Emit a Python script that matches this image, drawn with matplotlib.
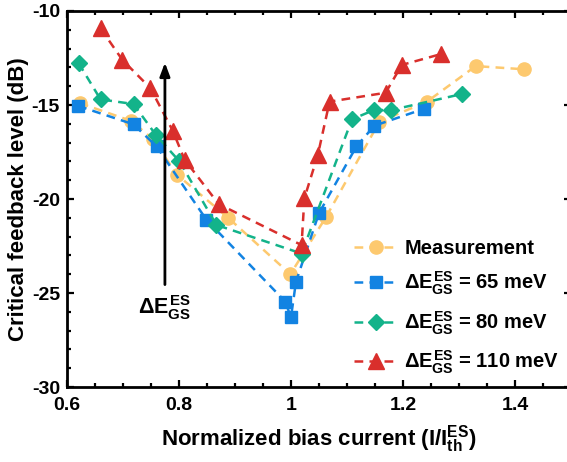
import matplotlib
matplotlib.use("Agg")
import matplotlib.pyplot as plt
from matplotlib.ticker import MultipleLocator

plt.rcParams['font.family'] = ['Liberation Sans', 'DejaVu Sans']
plt.rcParams['font.weight'] = 'bold'
plt.rcParams['axes.labelweight'] = 'bold'
plt.rcParams['axes.unicode_minus'] = False
plt.rcParams['mathtext.fontset'] = 'custom'
plt.rcParams['mathtext.rm'] = 'Liberation Sans:bold'
plt.rcParams['mathtext.it'] = 'Liberation Sans:bold'
plt.rcParams['mathtext.bf'] = 'Liberation Sans:bold'

# measurement
meas_x = [0.623, 0.715, 0.753, 0.797, 0.888, 0.999, 1.063, 1.158, 1.243, 1.33, 1.416]
meas_y = [-14.9, -15.85, -16.8, -18.72, -21.0, -24.0, -20.94, -15.89, -14.82, -12.93, -13.1]

# simulations
e65_x = [0.62, 0.719, 0.76, 0.849, 0.99, 1.0, 1.009, 1.05, 1.117, 1.149, 1.238]
e65_y = [-15.05, -16.03, -17.2, -21.1, -25.46, -26.3, -24.4, -20.76, -17.2, -16.1, -15.2]

e80_x = [0.621, 0.66, 0.719, 0.759, 0.801, 0.867, 1.019, 1.109, 1.148, 1.179, 1.306]
e80_y = [-12.78, -14.7, -14.95, -16.6, -18.0, -21.38, -22.9, -15.76, -15.27, -15.27, -14.41]

e110_x = [0.66, 0.699, 0.749, 0.789, 0.81, 0.871, 1.019, 1.024, 1.048, 1.069, 1.169, 1.198, 1.268]
e110_y = [-10.92, -12.6, -14.1, -16.37, -17.9, -20.27, -22.45, -19.96, -17.66, -14.82, -14.35, -12.87, -12.29]

c_meas = '#FDC96F'
c65 = '#1283E2'
c80 = '#13B38A'
c110 = '#D92F2C'

fig = plt.figure(figsize=(5.67, 4.62), dpi=100)
ax = fig.add_axes([0.118, 0.1623, 0.889, 0.8139])

dash = (3.5, 2.5)
ax.plot(meas_x, meas_y, '--', color=c_meas, marker='o', markersize=9.5, lw=1.8,
        dashes=dash, label='Measurement')
ax.plot(e65_x, e65_y, '--', color=c65, marker='s', markersize=8.5, lw=1.8,
        dashes=dash, label=r'$\Delta E_{GS}^{ES}$ = 65 meV')
ax.plot(e80_x, e80_y, '--', color=c80, marker='D', markersize=8.5, lw=1.8,
        dashes=dash, label=r'$\Delta E_{GS}^{ES}$ = 80 meV')
ax.plot(e110_x, e110_y, '--', color=c110, marker='^', markersize=11, lw=1.8,
        dashes=dash, label=r'$\Delta E_{GS}^{ES}$ = 110 meV')

ax.annotate('', xy=(0.775, -12.6), xytext=(0.775, -24.7),
            arrowprops=dict(arrowstyle='-|>,head_length=0.8,head_width=0.3',
                            color='black', lw=2))
ax.text(0.775, -25.0, r'$\Delta E_{GS}^{ES}$', ha='center', va='top', fontsize=15.5)

ax.set_xlim(0.6, 1.5)
ax.set_ylim(-30, -10)
ax.xaxis.set_major_locator(MultipleLocator(0.2))
ax.xaxis.set_minor_locator(MultipleLocator(0.05))
ax.yaxis.set_major_locator(MultipleLocator(5))
ax.yaxis.set_minor_locator(MultipleLocator(1))
ax.set_xticks([0.6, 0.8, 1.0, 1.2, 1.4])
ax.set_xticklabels(['0.6', '0.8', '1', '1.2', '1.4'])
ax.tick_params(which='both', direction='in', top=True, right=True, width=1.6,
               labelsize=14)
ax.tick_params(which='major', length=5)
ax.tick_params(which='minor', length=3)
ax.tick_params(axis='x', pad=7)
ax.tick_params(axis='y', pad=5)
for lab in ax.get_xticklabels() + ax.get_yticklabels():
    lab.set_fontweight('bold')
for s in ax.spines.values():
    s.set_linewidth(2)

ax.set_xlabel(r'Normalized bias current (I/I$_{th}^{ES}$)', fontsize=16, labelpad=7)
ax.set_ylabel('Critical feedback level (dB)', fontsize=16, labelpad=2)

ax.legend(loc='lower left', bbox_to_anchor=(354 / 567, 86 / 462),
          bbox_transform=fig.transFigure, frameon=False,
          fontsize=14.5, handlelength=2.2, handletextpad=0.3, labelspacing=0.6,
          borderaxespad=0, borderpad=0)

fig.savefig('out.png', dpi=100)
